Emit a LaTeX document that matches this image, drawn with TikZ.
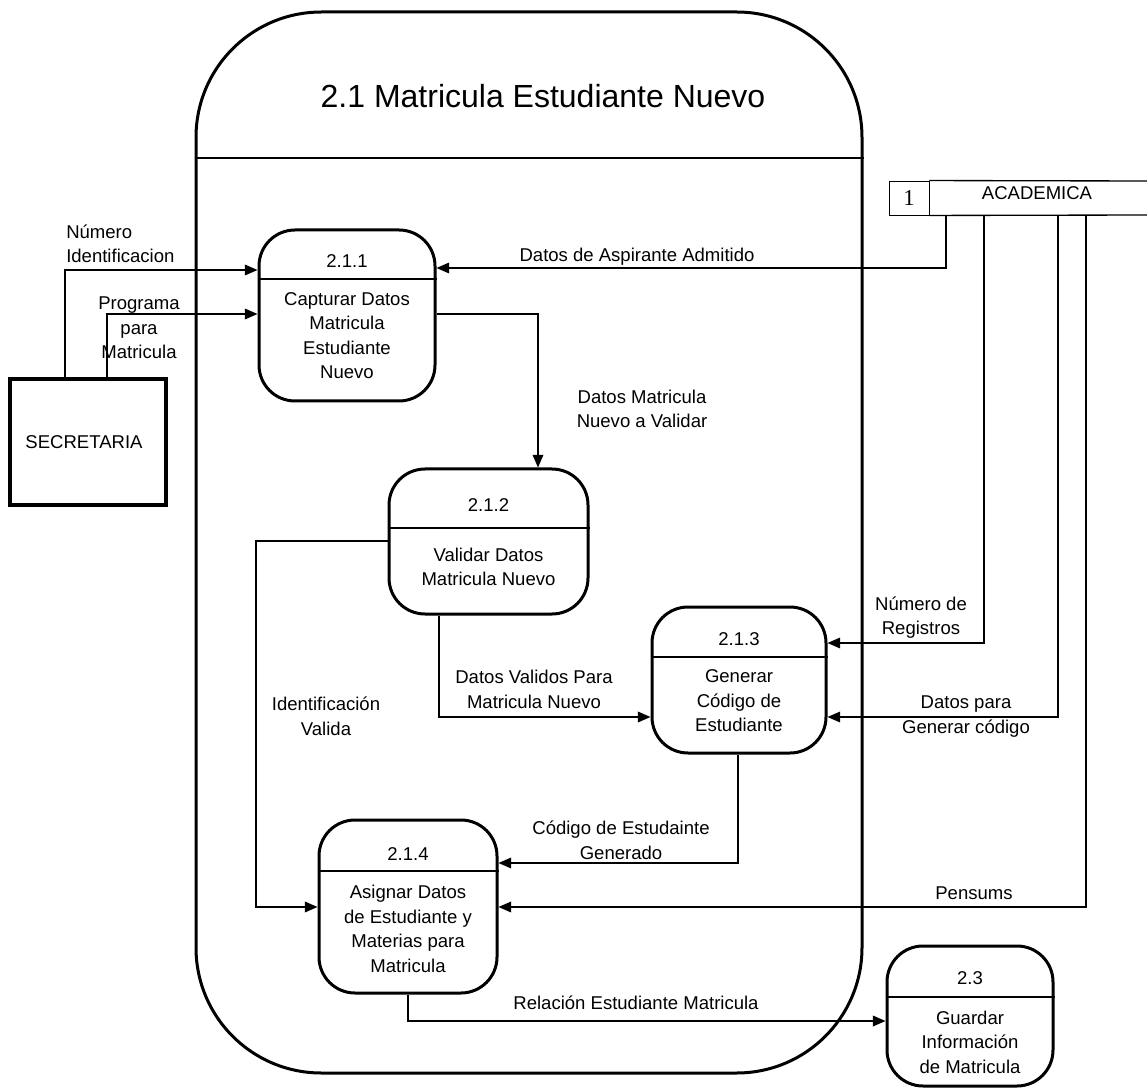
\documentclass[tikz,border=0pt]{standalone}
\usepackage{fontspec}
\setmainfont{Liberation Sans}
\newfontfamily\serifone{Liberation Serif}
\usetikzlibrary{arrows.meta,fit}
\newcommand{\lbfont}{\fontsize{13.9pt}{18.4pt}\selectfont}
\newcommand{\ttlfont}{\fontsize{24pt}{28pt}\selectfont}
\tikzset{
  proc/.style={draw, line width=2.25pt, rounded corners=27pt, inner sep=0pt},
  bigbox/.style={draw, line width=2.25pt, rounded corners=94pt, inner sep=0pt},
  extbox/.style={draw, line width=3pt, inner sep=0pt},
  sepline/.style={line width=1pt},
  storeline/.style={line width=1pt},
  arr/.style={line width=1.1pt, -{Triangle[length=9.5pt,width=8pt]}},
  lbl/.style={align=center, font=\lbfont, inner sep=0pt},
}
\begin{document}
\begin{tikzpicture}[x=0.75pt,y=-0.75pt]
\useasboundingbox (0,0) rectangle (1147,1091);

% big process 2.1
\node[bigbox, fit={(196,12)(862,1073)}] (p21) {};
\draw[sepline] (p21.west |- 0,158) -- (p21.east |- 0,158);
\node[font=\ttlfont, inner sep=0pt] (t21) at (543,96) {2.1 Matricula Estudiante Nuevo};

% processes
\node[proc, fit={(259,230)(435,401)}] (p211) {};
\draw[sepline] (p211.west |- 0,279) -- (p211.east |- 0,279);
\node[lbl] (p211id) at (347,261) {2.1.1};
\node[lbl] (p211tx) at (347,335.5) {Capturar Datos\\Matricula\\Estudiante\\Nuevo};

\node[proc, fit={(389,469)(588,614)}] (p212) {};
\draw[sepline] (p212.west |- 0,528) -- (p212.east |- 0,528);
\node[lbl] (p212id) at (488.5,505) {2.1.2};
\node[lbl] (p212tx) at (488.5,567) {Validar Datos\\Matricula Nuevo};

\node[proc, fit={(652,607)(826,753)}] (p213) {};
\draw[sepline] (p213.west |- 0,657) -- (p213.east |- 0,657);
\node[lbl] (p213id) at (739,639) {2.1.3};
\node[lbl] (p213tx) at (739,701) {Generar\\Código de\\Estudiante};

\node[proc, fit={(319,820)(497,993)}] (p214) {};
\draw[sepline] (p214.west |- 0,871) -- (p214.east |- 0,871);
\node[lbl] (p214id) at (408,854) {2.1.4};
\node[lbl] (p214tx) at (408,929) {Asignar Datos\\de Estudiante y\\Materias para\\Matricula};

\node[proc, fit={(887,946)(1053,1086)}] (p23) {};
\draw[sepline] (p23.west |- 0,997) -- (p23.east |- 0,997);
\node[lbl] (p23id) at (970,978) {2.3};
\node[lbl] (p23tx) at (970,1042) {Guardar\\Información\\de Matricula};

% external entity
\node[extbox, fit={(10,379)(166,505)}] (sec) {};
\node[lbl] (sectx) at (84,442) {SECRETARIA};

% data store
\node[draw, line width=0.7pt, inner sep=0pt, fit={(889,181)(929,215)}] (sid) {};
\node[font=\serifone\fontsize{17pt}{19pt}\selectfont, inner sep=0pt] (sidtx) at (sid.center) {1};
\coordinate (stR1) at (1147,181);
\coordinate (stR2) at (1147,215);
\draw[storeline] (sid.north east) -- (stR1);
\draw[storeline] (sid.south east) -- (stR2);
\node[lbl] (acad) at (1037,193) {ACADEMICA};
\coordinate (s1) at (946,215);
\coordinate (s2) at (984,215);
\coordinate (s3) at (1058,215);
\coordinate (s4) at (1086,215);
\coordinate (c1) at (256,907);

% flows
\draw[arr] (s1) |- (p211.east |- 0,268);
\draw[arr] (s2) |- (p213.east |- 0,643);
\draw[arr] (s3) |- (p213.east |- 0,717);
\draw[arr] (s4) |- (p214.east |- 0,907);
\draw[arr] (sec.north -| 65,0) |- (p211.west |- 0,270);
\draw[arr] (sec.north -| 107,0) |- (p211.west |- 0,314);
\draw[arr] (p211.east |- 0,314) -| (p212.north -| 538,0);
\draw[arr] (p212.south -| 439,0) |- (p213.west |- 0,717);
\draw[arr] (p212.west |- 0,541) -| (c1) -- (p214.west |- 0,907);
\draw[arr] (p213.south -| 738,0) |- (p214.east |- 0,863);
\draw[arr] (p214.south) |- (p23.west |- 0,1021);

% labels
\node[lbl, align=left, anchor=west] (l1) at (66,244) {Número\\Identificacion};
\node[lbl] (l2) at (139,328) {Programa\\para\\Matricula};
\node[lbl] (l3) at (637,257) {Datos de Aspirante Admitido};
\node[lbl] (l4) at (642,409) {Datos Matricula\\Nuevo a Validar};
\node[lbl] (l5) at (534,689.5) {Datos Validos Para\\Matricula Nuevo};
\node[lbl] (l6) at (326,716) {Identificación\\Valida};
\node[lbl] (l7) at (921,617.5) {Número de\\Registros};
\node[lbl] (l8) at (966,716.5) {Datos para\\Generar código};
\node[lbl] (l9) at (621,840) {Código de Estudainte\\Generado};
\node[lbl] (l10) at (974,893) {Pensums};
\node[lbl] (l11) at (636,1003) {Relación Estudiante Matricula};
\end{tikzpicture}
\end{document}
